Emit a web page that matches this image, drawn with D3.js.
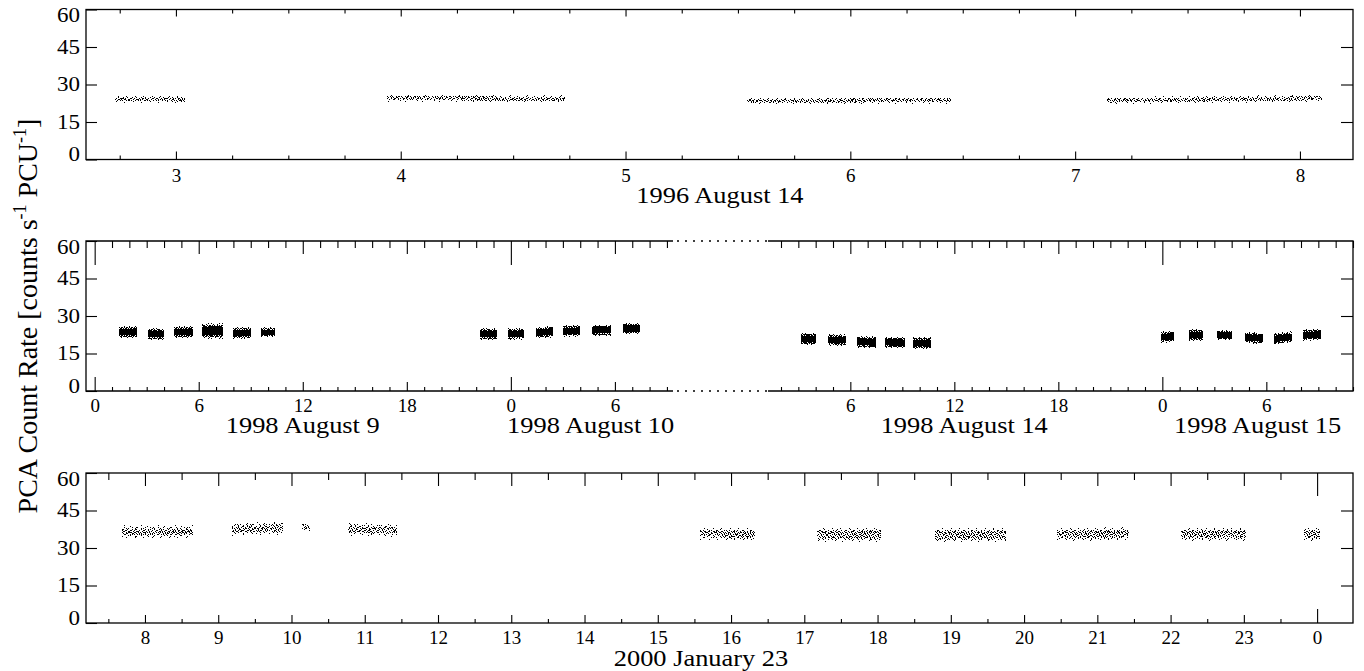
<!DOCTYPE html>
<html>
<head>
<meta charset="utf-8">
<script src="https://cdn.jsdelivr.net/npm/d3@7"></script>
<style>
  body { margin: 0; background: #fff; }
  svg text { font-family: "Liberation Serif", "DejaVu Serif", serif !important; fill: #000; }
</style>
</head>
<body>
<svg id="chart" width="1364" height="671"></svg>
<script>
// each observation: [start hour, end hour, rate at start, rate at end, scatter]
const obs1996 = [
  [2.73, 3.04, 24.2, 24.0, 1.4],
  [3.94, 4.73, 24.6, 24.2, 1.4],
  [5.54, 6.45, 23.4, 23.8, 1.4],
  [7.14, 8.10, 23.6, 24.5, 1.4]
];
// hours since 1998 Aug 9 00:00
const obs1998a = [
  [1.38, 2.42, 23.6, 23.6, 2.3],
  [3.05, 3.98, 22.8, 22.8, 2.3],
  [4.60, 5.65, 23.6, 23.6, 2.3],
  [6.20, 7.40, 24.0, 24.0, 3.2],
  [7.95, 9.00, 23.2, 23.2, 2.3],
  [9.60, 10.40, 23.5, 23.5, 2.0],
  [22.20, 23.20, 22.8, 22.8, 2.3],
  [23.83, 24.75, 22.8, 22.9, 2.3],
  [25.44, 26.42, 23.3, 23.7, 2.3],
  [27.00, 28.00, 24.1, 24.1, 2.3],
  [28.67, 29.76, 24.3, 24.3, 2.3],
  [30.45, 31.44, 25.0, 25.0, 2.3]
];
// hours since 1998 Aug 14 00:00
const obs1998b = [
  [3.18, 4.04, 20.8, 20.8, 2.3],
  [4.73, 5.77, 20.5, 20.3, 2.3],
  [6.40, 7.50, 19.7, 19.5, 2.5],
  [8.00, 9.17, 19.5, 19.3, 2.3],
  [9.63, 10.67, 19.2, 19.2, 2.3],
  [23.94, 24.70, 21.6, 21.8, 2.3],
  [25.56, 26.36, 22.4, 22.4, 2.3],
  [27.17, 28.03, 22.4, 22.4, 2.0],
  [28.78, 29.82, 21.4, 21.0, 2.3],
  [30.45, 31.50, 20.8, 21.6, 2.3],
  [32.13, 33.16, 22.4, 22.6, 2.3]
];
// hours since 2000 Jan 23 00:00
const obs2000 = [
  [7.69, 8.65, 36.4, 36.6, 2.6],
  [9.19, 9.88, 37.4, 38.0, 2.6],
  [10.14, 10.25, 38.4, 38.4, 1.6],
  [10.77, 11.44, 37.6, 37.0, 2.6],
  [15.57, 16.33, 35.8, 35.4, 2.4],
  [17.17, 18.05, 35.4, 35.4, 2.8],
  [18.78, 19.75, 35.0, 35.4, 2.8],
  [20.45, 21.43, 35.4, 35.8, 2.6],
  [22.14, 23.03, 35.6, 35.6, 2.6],
  [23.82, 24.04, 35.6, 35.6, 2.6]
];

const rateTicks = [0, 15, 30, 45, 60];
const dateLabels = [
  { text: "1996 August 14", panel: "p1", at: 5.42 },
  { text: "1998 August 9", panel: "p2a", at: 12 },
  { text: "1998 August 10", panel: "p2a", at: 28.6 },
  { text: "1998 August 14", panel: "p2b", at: 12.57 },
  { text: "1998 August 15", panel: "p2b", at: 29.5 },
  { text: "2000 January 23", panel: "p3", at: 15.59 }
];

const svg = d3.select("#chart");
const left = 86, right = 1353;
const panelTops = [9.5, 241, 473];
const panelH = 150;
const labelStretch = 1.1;

// dot textures used to render the scattered light-curve points
const defs = svg.append("defs");
function dotPattern(id, w, h, dots) {
  const p = defs.append("pattern").attr("id", id)
    .attr("patternUnits", "userSpaceOnUse").attr("width", w).attr("height", h);
  dots.forEach(d => p.append("rect").attr("x", d[0]).attr("y", d[1])
    .attr("width", 1).attr("height", 1).attr("fill", "#000"));
}
dotPattern("pSparse", 17, 9, [[2,0],[9,1],[14,2],[5,3],[11,4],[0,5],[16,6],[7,6],[3,8],[12,8]]);
dotPattern("pMed", 13, 7, [[0,0],[4,0],[9,1],[2,2],[7,2],[11,3],[5,4],[1,5],[9,5],[3,6],[12,6],[6,6]]);
dotPattern("pCore", 9, 4, [[0,0],[3,0],[6,1],[1,1],[8,2],[4,2],[2,3],[7,3],[5,0]]);
dotPattern("pMid", 11, 5, [[1,0],[5,0],[8,1],[3,1],[0,2],[6,2],[10,3],[2,3],[4,4],[8,4]]);
dotPattern("pDense", 5, 4, [[0,0],[1,0],[3,0],[2,1],[4,1],[0,2],[1,2],[3,2],[4,2],[1,3],[2,3],[4,3]]);

function bands(g, data, x, y, layers) {
  layers.forEach(l => {
    const area = d3.area()
      .x(d => x(d.t))
      .y0(d => y(d.v - d.s * l.k))
      .y1(d => y(d.v + d.s * l.k));
    g.append("g").selectAll("path")
      .data(data)
      .join("path")
      .attr("d", d => area([{ t: d[0], v: d[2], s: d[4] }, { t: d[1], v: d[3], s: d[4] }]))
      .attr("fill", l.fill)
      .attr("shape-rendering", "crispEdges");
  });
}

function ticksX(g, x, vals, top, bottom, lenTop, lenBottom) {
  g.append("g").attr("transform", `translate(0,${bottom})`)
    .call(d3.axisBottom(x).tickValues(vals).tickSize(-lenBottom).tickSizeOuter(0).tickFormat(""))
    .call(a => a.select(".domain").remove());
  g.append("g").attr("transform", `translate(0,${top})`)
    .call(d3.axisTop(x).tickValues(vals).tickSize(-lenTop).tickSizeOuter(0).tickFormat(""))
    .call(a => a.select(".domain").remove());
}

function labelsX(g, x, vals, fmt, bottom, pad) {
  g.append("g").attr("transform", `translate(0,${bottom})`)
    .call(d3.axisBottom(x).tickValues(vals).tickSize(0).tickPadding(pad).tickFormat(fmt))
    .call(a => a.select(".domain").remove())
    .call(a => a.selectAll("text").style("font-size", "19px"));
}

function yAxes(g, y) {
  g.append("g").attr("transform", `translate(${left},0)`)
    .call(d3.axisLeft(y).tickValues(rateTicks).tickSize(-11).tickSizeOuter(0).tickPadding(5.2))
    .call(a => a.select(".domain").remove())
    .call(a => a.selectAll("text").style("font-size", "20px")
      .attr("transform", "scale(1.15,1)")
      .attr("dy", d => d === 60 ? "0.6em" : d === 0 ? "0.05em" : "0.32em"));
  g.append("g").attr("transform", `translate(${right},0)`)
    .call(d3.axisRight(y).tickValues([15, 30, 45]).tickSize(-12).tickSizeOuter(0).tickFormat(""))
    .call(a => a.select(".domain").remove());
}

function dateText(g, x, y, text) {
  g.append("text")
    .attr("transform", `translate(${x},${y}) scale(${labelStretch},1)`)
    .attr("text-anchor", "middle")
    .style("font-size", "24px")
    .text(text);
}

const lineW = 1.3;

// ---------- panel 1: 1996 August 14 ----------
{
  const top = panelTops[0], bottom = top + panelH;
  const x = d3.scaleLinear().domain([2.6, 8.236]).range([left, right]);
  const y = d3.scaleLinear().domain([0, 60]).range([bottom, top]);
  const g = svg.append("g");
  bands(g, obs1996, x, y, [{ k: 1.0, fill: "url(#pSparse)" }, { k: 0.6, fill: "url(#pCore)" }, { k: 0.3, fill: "url(#pMid)" }]);
  g.append("rect").attr("x", left).attr("y", top).attr("width", right - left).attr("height", panelH)
    .attr("fill", "none").attr("stroke", "#000").attr("stroke-width", lineW);
  ticksX(g, x, d3.range(2.75, 8.24, 0.25).filter(v => v % 1 !== 0), top, bottom, 4, 4);
  ticksX(g, x, d3.range(3, 9, 1), top, bottom, 7, 8);
  labelsX(g, x, d3.range(3, 9, 1), d3.format("d"), bottom, 9.5);
  yAxes(g, y);
  dateLabels.filter(d => d.panel === "p1").forEach(d => dateText(g, x(d.at), bottom + 43, d.text));
}

// ---------- panel 2: 1998 August 9-10 and 14-15 (broken axis) ----------
{
  const top = panelTops[1], bottom = top + panelH;
  const breakL = 673, breakR = 768;
  const xa = d3.scaleLinear().domain([-0.5, 33.35]).range([left, breakL]);
  const xb = d3.scaleLinear().domain([1.25, 35.0]).range([breakR, right]);
  const y = d3.scaleLinear().domain([0, 60]).range([bottom, top]);
  const g = svg.append("g");
  const blobLayers = [{ k: 1.0, fill: "url(#pMid)" }, { k: 0.8, fill: "url(#pDense)" }, { k: 0.55, fill: "#000" }];
  bands(g, obs1998a, xa, y, blobLayers);
  bands(g, obs1998b, xb, y, blobLayers);

  // frame
  const fr = g.append("g").attr("stroke", "#000").attr("stroke-width", lineW).attr("fill", "none");
  fr.append("path").attr("d", `M${breakL},${top}H${left}V${bottom}H${breakL}`);
  fr.append("path").attr("d", `M${breakR},${top}H${right}V${bottom}H${breakR}`);
  fr.append("path").attr("d", `M${breakL},${top}H${breakR}M${breakL},${bottom}H${breakR}`)
    .attr("stroke-dasharray", "2,6").attr("stroke-dashoffset", -4);

  const fmtH = h => String(((h % 24) + 24) % 24);
  [[xa, 0, 33], [xb, 2, 35]].forEach(([x, a, b]) => {
    const hrs = d3.range(a, b + 1, 1);
    ticksX(g, x, hrs.filter(h => h % 6 !== 0), top, bottom, 7, 4);
    ticksX(g, x, hrs.filter(h => h % 6 === 0 && h % 24 !== 0), top, bottom, 13, 9);
    ticksX(g, x, hrs.filter(h => h % 24 === 0), top, bottom, 24, 14);
    labelsX(g, x, hrs.filter(h => h % 6 === 0), fmtH, bottom, 8);
  });
  yAxes(g, y);
  dateLabels.filter(d => d.panel.startsWith("p2")).forEach(d =>
    dateText(g, (d.panel === "p2a" ? xa : xb)(d.at), bottom + 41.5, d.text));
}

// ---------- panel 3: 2000 January 23 ----------
{
  const top = panelTops[2], bottom = top + panelH;
  const x = d3.scaleLinear().domain([7.195, 24.49]).range([left, right]);
  const y = d3.scaleLinear().domain([0, 60]).range([bottom, top]);
  const g = svg.append("g");
  bands(g, obs2000, x, y, [{ k: 1.0, fill: "url(#pSparse)" }, { k: 0.75, fill: "url(#pMed)" }, { k: 0.45, fill: "url(#pCore)" }]);
  g.append("rect").attr("x", left).attr("y", top).attr("width", right - left).attr("height", panelH)
    .attr("fill", "none").attr("stroke", "#000").attr("stroke-width", lineW);
  const hrs = d3.range(8, 25, 1);
  ticksX(g, x, d3.range(7.5, 24.5, 1), top, bottom, 7, 4);
  ticksX(g, x, hrs.filter(h => h !== 24), top, bottom, 13, 8);
  ticksX(g, x, [24], top, bottom, 23, 14);
  labelsX(g, x, hrs, h => String(h % 24), bottom, 8);
  yAxes(g, y);
  dateLabels.filter(d => d.panel === "p3").forEach(d => dateText(g, x(d.at), bottom + 42.5, d.text));
}

// shared y title
const title = svg.append("text")
  .attr("transform", "translate(37,316) rotate(-90)")
  .attr("text-anchor", "middle")
  .style("font-size", "28px");
title.append("tspan").text("PCA Count Rate [counts s");
title.append("tspan").attr("dy", -11).style("font-size", "18px").text("-1");
title.append("tspan").attr("dy", 11).text(" PCU");
title.append("tspan").attr("dy", -11).style("font-size", "18px").text("-1");
title.append("tspan").attr("dy", 11).text("]");

svg.selectAll(".tick line").attr("stroke", "#000").attr("stroke-width", 1.1);
</script>
</body>
</html>
